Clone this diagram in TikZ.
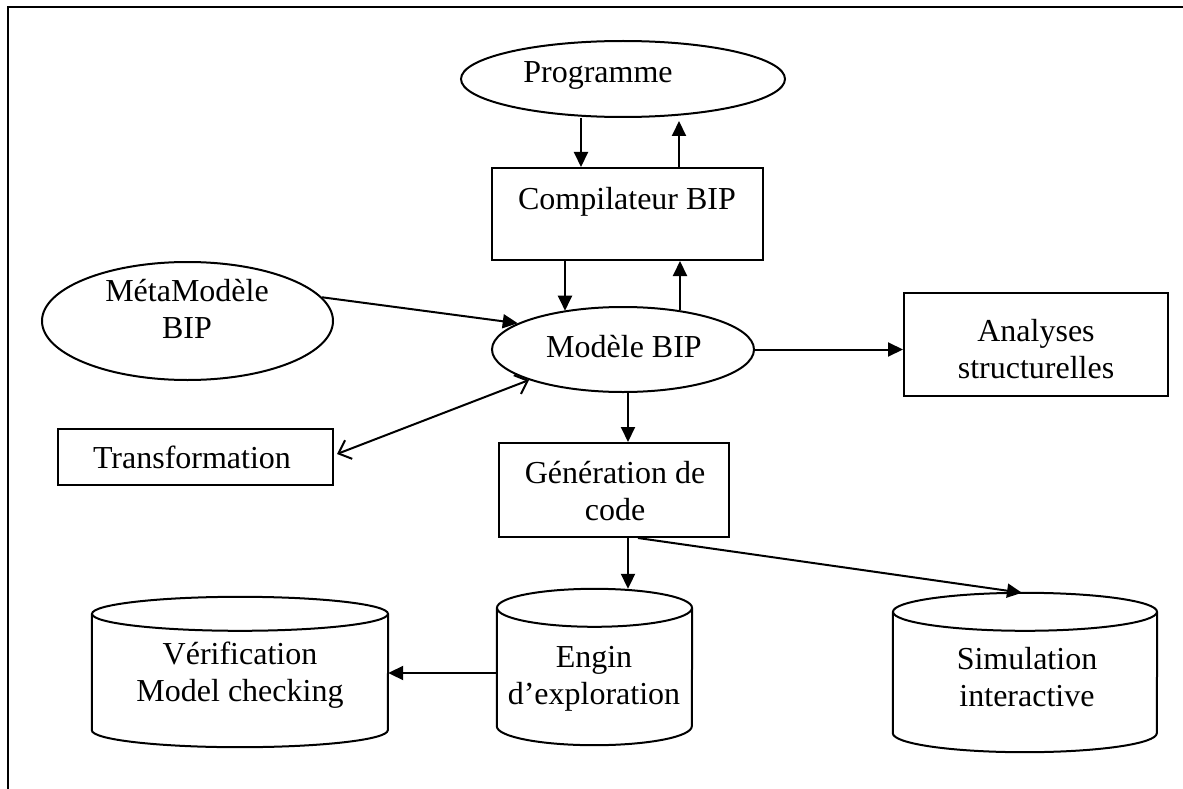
\documentclass[tikz,border=0pt]{standalone}
\usepackage{fontspec}
\setmainfont{Liberation Serif}
\usetikzlibrary{shapes.geometric,arrows.meta}
\newcommand\fs{\fontsize{32}{37}\selectfont}
\newcommand\drawcyl[3]{%
  \draw[shapeline] ([yshift=-#3pt]#1.north) ellipse [x radius=#2pt, y radius=#3pt];
  \draw[shapeline] ([yshift=-#3pt]#1.north west) -- ([yshift=#3pt]#1.south west)
    arc[start angle=180, end angle=360, x radius=#2pt, y radius=#3pt]
    -- ([yshift=-#3pt]#1.north east);
}
\tikzset{
  shapeline/.style={line width=2pt},
  shp/.style={draw, line width=2pt, inner sep=0pt},
  ell/.style={shp, ellipse},
  boxnode/.style={shp, rectangle},
  cylbody/.style={rectangle, inner sep=0pt},
  txt/.style={font=\fs, inner sep=0pt, align=center},
  arr/.style={line width=2pt, -{Triangle[length=15pt,width=14pt]}},
  dbl/.style={line width=2pt, {Straight Barb[length=11pt,width=20pt]}-{Straight Barb[length=11pt,width=20pt]}}
}
\begin{document}
\begin{tikzpicture}[x=1pt,y=-1pt]
\useasboundingbox (0,0) rectangle (1183,789);
\draw[line width=2pt] (7.5,789) -- (7.5,6.7) -- (1183,6.7);

\node[ell, minimum width=324pt, minimum height=76pt] (prog) at (623,79) {};
\node[txt, anchor=base] (progt) at (598,83) {Programme};
\node[boxnode, minimum width=271pt, minimum height=92pt] (comp) at (627.5,214) {};
\node[txt, anchor=base] (compt) at (627,209) {Compilateur BIP};
\node[ell, minimum width=291pt, minimum height=118pt] (meta) at (187.5,321) {};
\node[txt, anchor=north] (metat) at (187,279.5) {MétaModèle\\BIP};
\node[ell, minimum width=262pt, minimum height=85pt] (mod) at (623,349.5) {};
\node[txt, anchor=base] (modt) at (624,357) {Modèle BIP};
\node[boxnode, minimum width=275pt, minimum height=56pt] (trans) at (195.5,457) {};
\node[txt, anchor=base] (transt) at (192,468) {Transformation};
\node[boxnode, minimum width=264pt, minimum height=103pt] (ana) at (1036,344.5) {};
\node[txt, anchor=north] (anat) at (1036,319.5) {Analyses\\structurelles};
\node[boxnode, minimum width=230pt, minimum height=94pt] (gen) at (614,490) {};
\node[txt, anchor=north] (gent) at (615,461.5) {Génération de\\code};

\node[cylbody, minimum width=296pt, minimum height=150pt] (ver) at (240,672) {};
\drawcyl{ver}{148}{17}
\node[txt, anchor=north] (vert) at (240,641.5) {Vérification\\Model checking};
\node[cylbody, minimum width=195pt, minimum height=156pt] (eng) at (594.5,667) {};
\drawcyl{eng}{97.5}{19}
\node[txt, anchor=north] (engt) at (594,646.5) {Engin\\d’exploration};
\node[cylbody, minimum width=264pt, minimum height=159pt] (sim) at (1025,672.5) {};
\drawcyl{sim}{132}{19}
\node[txt, anchor=north] (simt) at (1027,647.5) {Simulation\\interactive};

\draw[arr] ([xshift=-42pt]prog.south) -- ([xshift=-42pt]prog.south |- comp.north);
\draw[arr, shorten >=3pt] ([xshift=51.5pt]comp.north) -- ([xshift=51.5pt]comp.north |- prog.south);
\draw[arr] ([xshift=-62.5pt]comp.south) -- ([xshift=-62.5pt]comp.south |- mod.147);
\draw[arr] ([xshift=52.5pt]comp.south |- mod.34) -- ([xshift=52.5pt]comp.south);
\draw[arr] (meta.10) -- (mod.166);
\draw[dbl] ([xshift=3pt,yshift=3pt]trans.east) -- (mod.198);
\draw[arr] (mod.east) -- (mod.east -| ana.west);
\draw[arr] ([xshift=5pt]mod.south) -- ([xshift=5pt]mod.south |- gen.north);
\draw[arr] ([xshift=14pt]gen.south) -- ([xshift=14pt]gen.south |- eng.north);
\draw[arr] ([xshift=24pt]gen.south) -- ([xshift=-3pt]sim.north);
\draw[arr] ([yshift=-6pt]eng.west) -- ([yshift=-6pt]eng.west -| ver.east);
\end{tikzpicture}
\end{document}
